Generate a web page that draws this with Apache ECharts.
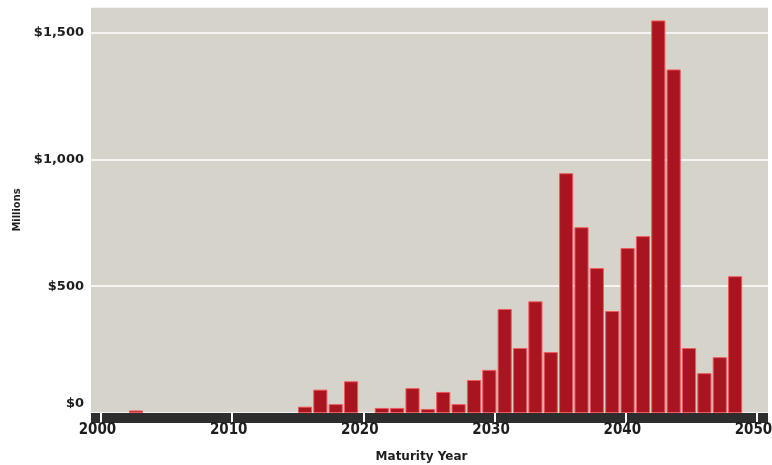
<!DOCTYPE html>
<html>
<head>
<meta charset="utf-8">
<script src="https://cdn.jsdelivr.net/npm/echarts@6/dist/echarts.min.js"></script>
<style>
  html, body { margin: 0; padding: 0; background: #fff; }
  #container { width: 772px; height: 465px; }
</style>
</head>
<body>
<div id="container"></div>
<script>
// maturity years (one bar slot each) and amounts in $ millions
const years = [
  2008, 2009, 2010, 2011, 2012, 2013, 2014, 2015, 2016, 2017, 2018, 2019, 2020,
  2021, 2022, 2023, 2024, 2025, 2026, 2027, 2028, 2029, 2030, 2031, 2032, 2033,
  2034, 2035, 2036, 2037, 2038, 2039, 2040, 2041, 2042, 2043, 2044, 2045, 2046,
  2047, 2048, 2049
];
const amounts = [
  0, 0, 10, 0, 0, 0, 0, 0, 0, 0, 0, 0, 0,
  25, 92, 35, 125, 0, 20, 20, 98, 16, 83, 35, 130, 170,
  410, 256, 440, 240, 945, 732, 571, 402, 650, 697, 1547, 1354, 256,
  157, 220, 539
];
const yearTicks = [2000, 2010, 2020, 2030, 2040, 2050];

const chart = echarts.init(document.getElementById('container'));

const labelFont = "'DejaVu Sans', sans-serif";
const condFont = "'DejaVu Sans Condensed', 'DejaVu Sans', sans-serif";

const option = {
  backgroundColor: '#ffffff',
  animation: false,
  grid: [
    // visible plot area
    { left: 91, right: 4, top: 7, bottom: 52, show: true, backgroundColor: '#d6d3cb', borderWidth: 0, outerBoundsMode: 'none' },
    // bar slots (they don't line up with the year scale in the original)
    { left: 97.6, right: 29.2, top: 7, bottom: 52, outerBoundsMode: 'none' }
  ],
  xAxis: [
    {
      gridIndex: 0,
      type: 'value',
      position: 'bottom',
      min: 1999.24,
      max: 2050.84,
      z: 3,
      axisLine: { show: false },
      splitLine: { show: false },
      axisTick: {
        show: true,
        customValues: yearTicks,
        length: 10,
        lineStyle: { color: '#ffffff', width: 2 }
      },
      axisLabel: {
        customValues: yearTicks,
        margin: 10,
        color: '#1e1e1e',
        fontFamily: condFont,
        fontWeight: 'bold',
        fontSize: 15,
        padding: [0, 7, 0, 0],
        formatter: v => String(v)
      },
      name: 'Maturity Year',
      nameLocation: 'middle',
      nameGap: 38,
      nameTextStyle: {
        color: '#1e1e1e',
        fontFamily: labelFont,
        fontWeight: 'bold',
        fontSize: 12,
        padding: [0, 16, 0, 0]
      }
    },
    {
      // dark band under the bars
      gridIndex: 0,
      type: 'value',
      position: 'bottom',
      min: 1999.24,
      max: 2050.84,
      offset: 4.5,
      z: 1,
      axisLine: { show: true, lineStyle: { color: '#2d2d2d', width: 10, cap: 'butt' } },
      axisTick: { show: false },
      axisLabel: { show: false },
      splitLine: { show: false }
    },
    {
      gridIndex: 1,
      type: 'category',
      data: years,
      show: false
    }
  ],
  yAxis: [
    {
      gridIndex: 0,
      type: 'value',
      min: 0,
      max: 1600,
      interval: 500,
      axisLine: { show: false },
      axisTick: { show: false },
      splitLine: { show: true, lineStyle: { color: '#ffffff', width: 1.5 } },
      axisLabel: {
        showMaxLabel: false,
        margin: 7,
        formatter: v => v === 0 ? '{z|$0}' : '{a|$' + v.toLocaleString('en-US') + '}',
        rich: {
          a: { color: '#1e1e1e', fontFamily: labelFont, fontWeight: 'bold', fontSize: 13 },
          z: { color: '#1e1e1e', fontFamily: labelFont, fontWeight: 'bold', fontSize: 13, padding: [0, 0, 18, 0] }
        }
      },
      name: 'Millions',
      nameLocation: 'middle',
      nameRotate: 90,
      nameGap: 68,
      nameTextStyle: {
        color: '#1e1e1e',
        fontFamily: condFont,
        fontWeight: 'bold',
        fontSize: 11
      }
    },
    {
      gridIndex: 1,
      type: 'value',
      min: 0,
      max: 1600,
      show: false
    }
  ],
  series: [
    {
      type: 'bar',
      xAxisIndex: 2,
      yAxisIndex: 1,
      // empty slots drawn as nothing (no outline)
      data: amounts.map(v => (v === 0 ? '-' : v)),
      barCategoryGap: '8%',
      itemStyle: {
        color: '#a8141f',
        borderColor: '#ef5a5a',
        borderWidth: 1
      }
    }
  ]
};

chart.setOption(option);
</script>
</body>
</html>
